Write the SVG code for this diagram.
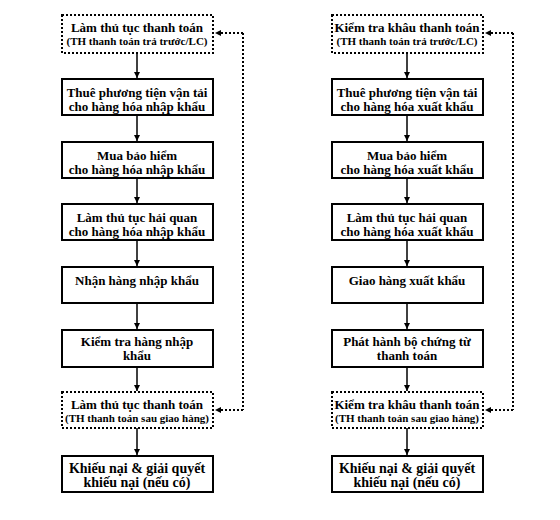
<svg xmlns="http://www.w3.org/2000/svg" width="560" height="520" viewBox="0 0 560 520">
<defs>
<marker id="ah" viewBox="0 0 10 10" refX="10" refY="5" markerWidth="6" markerHeight="6" markerUnits="userSpaceOnUse" orient="auto">
<path d="M0,0 L10,5 L0,10 z" fill="#000"/>
</marker>
<style>
.box{fill:#fff;stroke:#000;stroke-width:2}
.dot{fill:#fff;stroke:#000;stroke-width:2;stroke-dasharray:2 2}
.t{font-family:"Liberation Serif","Times New Roman",serif;font-weight:bold;font-size:13px;fill:#000;text-anchor:middle}
.s{font-family:"Liberation Serif","Times New Roman",serif;font-weight:bold;font-size:11px;fill:#000;text-anchor:middle}
.b{font-family:"Liberation Serif","Times New Roman",serif;font-weight:bold;font-size:14px;fill:#000;text-anchor:middle}
.c{stroke:#000;stroke-width:1.5;fill:none}
.f{stroke:#000;stroke-width:2;stroke-dasharray:2 2;fill:none}
</style>
</defs>
<rect width="560" height="520" fill="#fff"/>
<g id="connectors">
<line class="c" x1="137" y1="53" x2="137" y2="78" marker-end="url(#ah)"/>
<line class="c" x1="137" y1="115" x2="137" y2="141" marker-end="url(#ah)"/>
<line class="c" x1="137" y1="178" x2="137" y2="203" marker-end="url(#ah)"/>
<line class="c" x1="137" y1="240" x2="137" y2="266" marker-end="url(#ah)"/>
<line class="c" x1="137" y1="303" x2="137" y2="329" marker-end="url(#ah)"/>
<line class="c" x1="137" y1="367" x2="137" y2="391" marker-end="url(#ah)"/>
<line class="c" x1="137" y1="428" x2="137" y2="455" marker-end="url(#ah)"/>
<path class="f" d="M243,33 V410"/>
<line class="f" x1="243" y1="33" x2="215" y2="33" marker-end="url(#ah)"/>
<line class="f" x1="243" y1="410" x2="215" y2="410" marker-end="url(#ah)"/>
<line class="c" x1="407" y1="53" x2="407" y2="78" marker-end="url(#ah)"/>
<line class="c" x1="407" y1="115" x2="407" y2="141" marker-end="url(#ah)"/>
<line class="c" x1="407" y1="178" x2="407" y2="203" marker-end="url(#ah)"/>
<line class="c" x1="407" y1="240" x2="407" y2="266" marker-end="url(#ah)"/>
<line class="c" x1="407" y1="303" x2="407" y2="329" marker-end="url(#ah)"/>
<line class="c" x1="407" y1="367" x2="407" y2="391" marker-end="url(#ah)"/>
<line class="c" x1="407" y1="428" x2="407" y2="455" marker-end="url(#ah)"/>
<path class="f" d="M513,33 V410"/>
<line class="f" x1="513" y1="33" x2="485" y2="33" marker-end="url(#ah)"/>
<line class="f" x1="513" y1="410" x2="485" y2="410" marker-end="url(#ah)"/>
</g>
<g id="L1"><rect class="dot" x="62" y="15" width="151" height="38"/><text class="t" x="137" y="32">Làm thủ tục thanh toán</text><text class="s" x="137" y="45">(TH thanh toán trả trước/LC)</text></g>
<g id="L2"><rect class="box" x="62" y="79" width="151" height="36"/><text class="t" x="137" y="97">Thuê phương tiện vận tải</text><text class="t" x="137" y="111">cho hàng hóa nhập khẩu</text></g>
<g id="L3"><rect class="box" x="62" y="142" width="151" height="36"/><text class="t" x="137" y="160">Mua bảo hiểm</text><text class="t" x="137" y="174">cho hàng hóa nhập khẩu</text></g>
<g id="L4"><rect class="box" x="62" y="204" width="151" height="36"/><text class="t" x="137" y="222">Làm thủ tục hải quan</text><text class="t" x="137" y="236">cho hàng hóa nhập khẩu</text></g>
<g id="L5"><rect class="box" x="62" y="267" width="151" height="36"/><text class="t" x="137" y="285">Nhận hàng nhập khẩu</text></g>
<g id="L6"><rect class="box" x="62" y="330" width="151" height="37"/><text class="t" x="137" y="346">Kiểm tra hàng nhập</text><text class="t" x="137" y="360">khẩu</text></g>
<g id="L7"><rect class="dot" x="62" y="392" width="151" height="36"/><text class="t" x="137" y="409">Làm thủ tục thanh toán</text><text class="s" x="137" y="422">(TH thanh toán sau giao hàng)</text></g>
<g id="L8"><rect class="box" x="62" y="456" width="151" height="36"/><text class="b" x="137" y="473">Khiếu nại &amp; giải quyết</text><text class="b" x="137" y="487">khiếu nại (nếu có)</text></g>
<g id="R1"><rect class="dot" x="332" y="15" width="151" height="38"/><text class="t" x="407" y="32">Kiểm tra khâu thanh toán</text><text class="s" x="407" y="45">(TH thanh toán trả trước/LC)</text></g>
<g id="R2"><rect class="box" x="332" y="79" width="151" height="36"/><text class="t" x="407" y="97">Thuê phương tiện vận tải</text><text class="t" x="407" y="111">cho hàng hóa xuất khẩu</text></g>
<g id="R3"><rect class="box" x="332" y="142" width="151" height="36"/><text class="t" x="407" y="160">Mua bảo hiểm</text><text class="t" x="407" y="174">cho hàng hóa xuất khẩu</text></g>
<g id="R4"><rect class="box" x="332" y="204" width="151" height="36"/><text class="t" x="407" y="222">Làm thủ tục hải quan</text><text class="t" x="407" y="236">cho hàng hóa xuất khẩu</text></g>
<g id="R5"><rect class="box" x="332" y="267" width="151" height="36"/><text class="t" x="407" y="285">Giao hàng xuất khẩu</text></g>
<g id="R6"><rect class="box" x="332" y="330" width="151" height="37"/><text class="t" x="407" y="346">Phát hành bộ chứng từ</text><text class="t" x="407" y="360">thanh toán</text></g>
<g id="R7"><rect class="dot" x="332" y="392" width="151" height="36"/><text class="t" x="407" y="409">Kiểm tra khâu thanh toán</text><text class="s" x="407" y="422">(TH thanh toán sau giao hàng)</text></g>
<g id="R8"><rect class="box" x="332" y="456" width="151" height="36"/><text class="b" x="407" y="473">Khiếu nại &amp; giải quyết</text><text class="b" x="407" y="487">khiếu nại (nếu có)</text></g>
</svg>
